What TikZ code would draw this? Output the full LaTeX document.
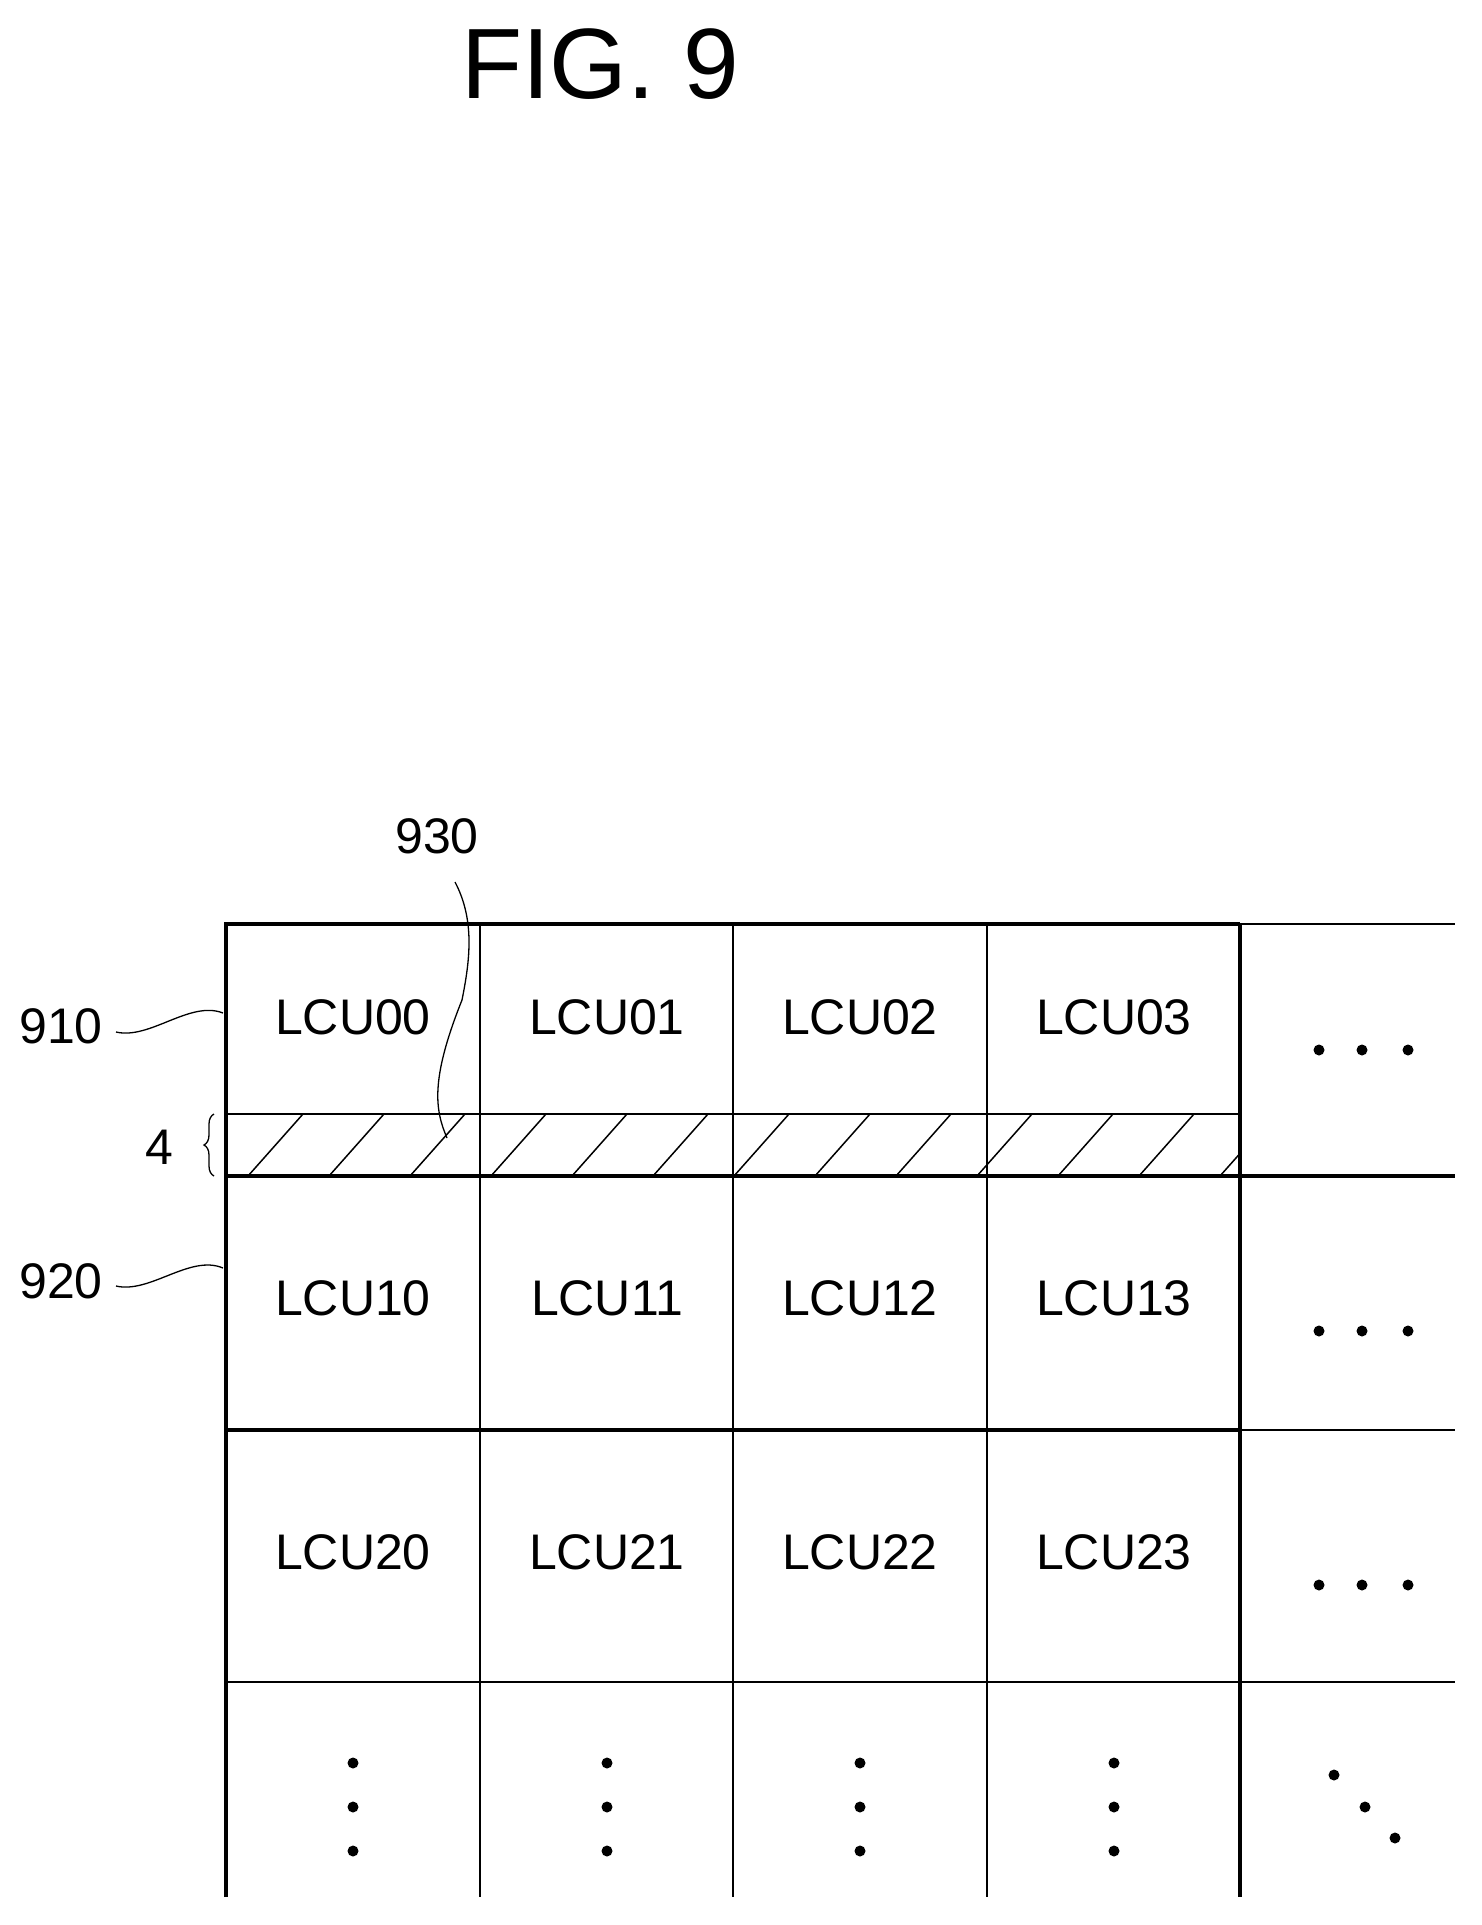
\documentclass[tikz,border=0pt]{standalone}
\usepackage{fontspec}
\setmainfont{Liberation Sans}
\usetikzlibrary{decorations.pathreplacing}
\begin{document}
\begin{tikzpicture}[x=1pt,y=-1pt,
  thin line/.style={line width=2.6pt},
  thick line/.style={line width=4pt},
  lbl/.style={font=\fontsize{50}{50}\selectfont, inner sep=0pt},
  cell/.style={font=\fontsize{50}{50}\selectfont, inner sep=0pt},
  dotc/.style={fill=black}]
\useasboundingbox (0,0) rectangle (1481,1925);
\node[font=\fontsize{100}{100}\selectfont, inner sep=0pt] (title) at (600,64) {FIG. 9};
% hatch
\begin{scope}
\clip (226,1114) rectangle (1240,1176);
\foreach \k in {0,...,14} {
  \draw[line width=1.5pt] ({248+\k*81},1176) -- ({248+\k*81+55},1114);
}
\end{scope}
% grid thin
\foreach \x in {480,733,987} \draw[thin line] (\x,924) -- (\x,1897);
\draw[thin line] (1240,924) -- (1455,924);
\draw[thin line] (1240,1430) -- (1455,1430);
\draw[thin line] (226,1682) -- (1455,1682);
\draw[thin line] (226,1114) -- (1240,1114);
% thick
\draw[thick line] (226,1897) -- (226,924) -- (1240,924);
\draw[thick line] (1240,924) -- (1240,1897);
\draw[thick line] (226,1176) -- (1455,1176);
\draw[thick line] (226,1430) -- (1240,1430);
% cell labels
\foreach \r/\y in {0/1017,1/1298,2/1552} {
  \foreach \c/\x in {0/353,1/607,2/860,3/1114} {
    \node[cell] (l\r\c) at (\x,\y) {LCU\r\c};
  }
  \foreach \dx in {1319,1362,1408} \fill (\dx,{\y+33}) circle (5.5);
}
\foreach \x in {353,607,860,1114} \foreach \y in {1763,1807,1851} \fill (\x,\y) circle (5.5);
\foreach \p in {(1334,1775),(1365,1807),(1395,1838)} \fill \p circle (5.5);
% reference labels
\node[lbl] (n910) at (61,1026) {910};
\node[lbl] (n920) at (61,1281) {920};
\node[lbl] (n4) at (159,1147) {4};
\node[lbl] (n930) at (437,836) {930};
\coordinate (e910) at (223,1013);
\coordinate (e920) at (223,1268);
\draw[line width=1.3pt] (116,1032) .. controls (150,1040) and (190,1000) .. (e910);
\draw[line width=1.3pt] (116,1286) .. controls (150,1294) and (190,1254) .. (e920);
\draw[line width=1.3pt, decorate, decoration={brace, amplitude=10pt}] (214,1176) -- (214,1114);
\coordinate (e930) at (447,1138);
\draw[line width=1.3pt] (455,882) .. controls (475,920) and (470,960) .. (462,1000) .. controls (430,1080) and (435,1110) .. (e930);
\end{tikzpicture}
\end{document}
